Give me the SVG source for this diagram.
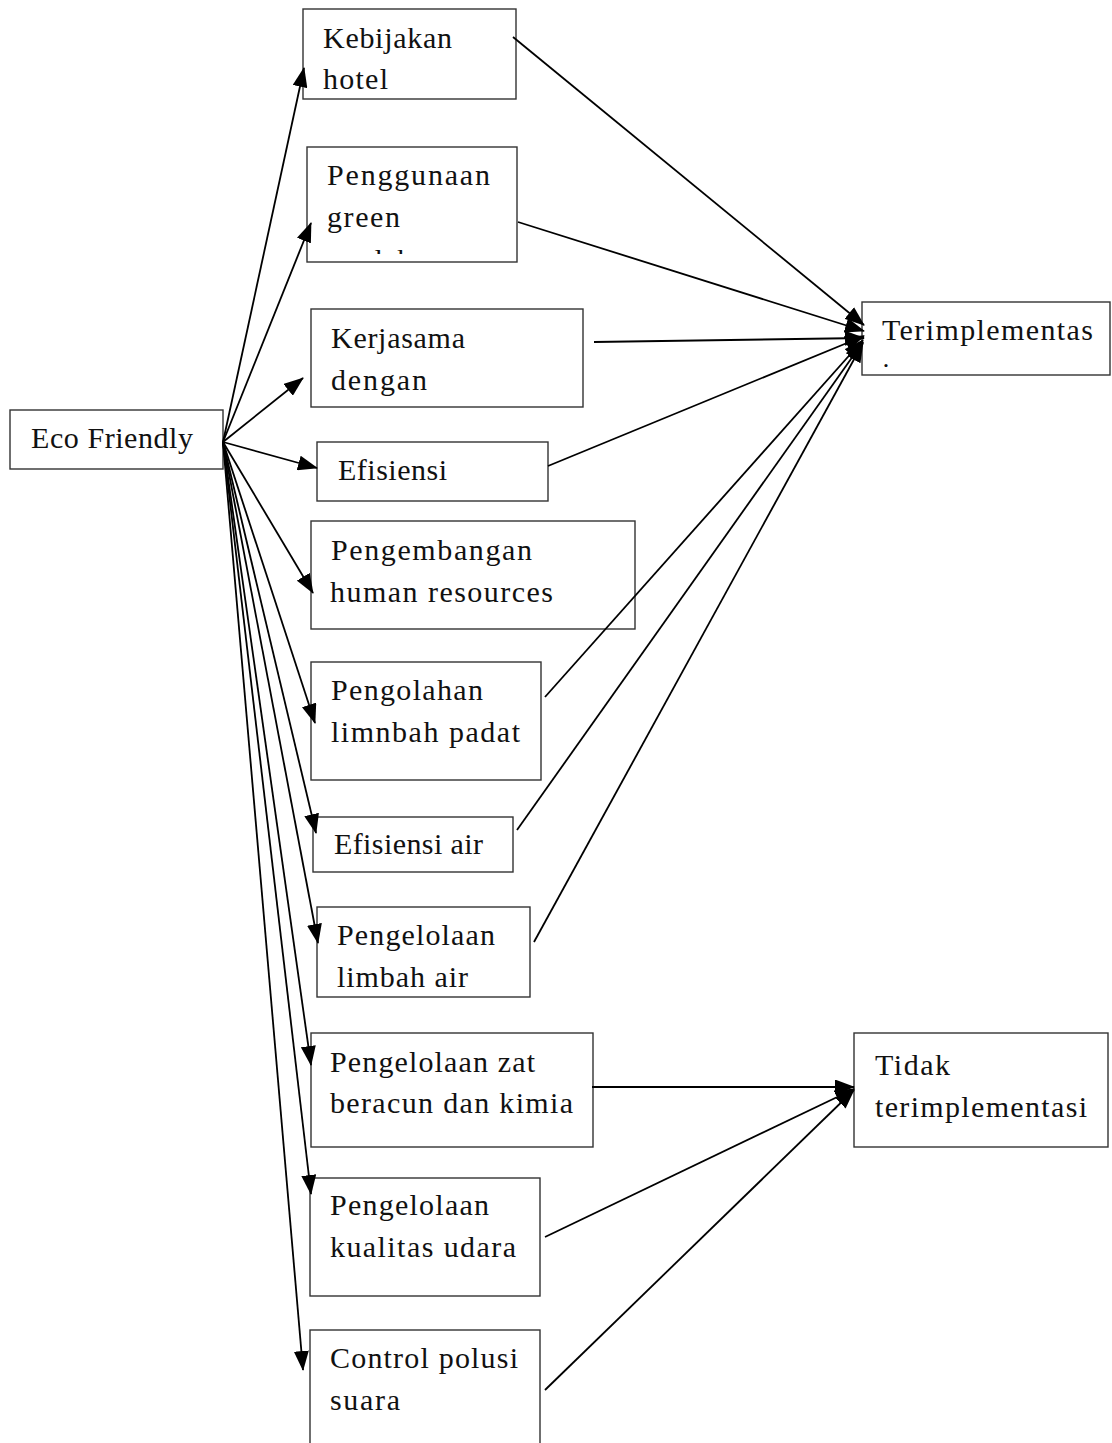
<svg xmlns="http://www.w3.org/2000/svg" width="1112" height="1443" viewBox="0 0 1112 1443">
<style>
.box{fill:#fff;stroke:#333;stroke-width:1.4}
.t{font-family:"Liberation Serif","Times New Roman",serif;font-size:30px;fill:#111}
.c line{stroke:#000;stroke-width:1.8;marker-end:url(#ah)}
</style>
<defs>
<marker id="ah" markerUnits="userSpaceOnUse" markerWidth="20" markerHeight="15" refX="19" refY="7.5" orient="auto" viewBox="0 0 20 15">
<path d="M0,0 L20,7.5 L0,15 z" fill="#000"/>
</marker>
<clipPath id="clipProduk"><rect x="307" y="147" width="210" height="107"/></clipPath>
<clipPath id="clipTerim"><rect x="862" y="302" width="250" height="65"/></clipPath>
</defs>
<rect width="1112" height="1443" fill="#fff"/>

<g id="eco">
<rect class="box" x="10" y="410" width="213" height="59"/>
<text class="t" x="31" y="448" textLength="162" lengthAdjust="spacing">Eco Friendly</text>
</g>
<g id="kebijakan">
<rect class="box" x="303" y="9" width="213" height="90"/>
<text class="t" x="323" y="48" textLength="129" lengthAdjust="spacing">Kebijakan</text>
<text class="t" x="323" y="89" textLength="65" lengthAdjust="spacing">hotel</text>
</g>
<g id="penggunaan">
<rect class="box" x="307" y="147" width="210" height="115"/>
<text class="t" x="327" y="185" textLength="163" lengthAdjust="spacing">Penggunaan</text>
<text class="t" x="327" y="227" textLength="73" lengthAdjust="spacing">green</text>
<text class="t" x="327" y="270" clip-path="url(#clipProduk)">produk</text>
</g>
<g id="kerjasama">
<rect class="box" x="311" y="309" width="272" height="98"/>
<text class="t" x="331" y="348" textLength="134" lengthAdjust="spacing">Kerjasama</text>
<text class="t" x="331" y="390" textLength="96" lengthAdjust="spacing">dengan</text>
</g>
<g id="efisiensi">
<rect class="box" x="317" y="442" width="231" height="59"/>
<text class="t" x="338" y="480" textLength="109" lengthAdjust="spacing">Efisiensi</text>
</g>
<g id="pengembangan">
<rect class="box" x="311" y="521" width="324" height="108"/>
<text class="t" x="331" y="560" textLength="201" lengthAdjust="spacing">Pengembangan</text>
<text class="t" x="330" y="602" textLength="223" lengthAdjust="spacing">human resources</text>
</g>
<g id="pengolahan">
<rect class="box" x="311" y="662" width="230" height="118"/>
<text class="t" x="331" y="700" textLength="152" lengthAdjust="spacing">Pengolahan</text>
<text class="t" x="331" y="742" textLength="189" lengthAdjust="spacing">limnbah padat</text>
</g>
<g id="efisiensi-air">
<rect class="box" x="313" y="817" width="200" height="55"/>
<text class="t" x="334" y="854" textLength="149" lengthAdjust="spacing">Efisiensi air</text>
</g>
<g id="limbah-air">
<rect class="box" x="317" y="907" width="213" height="90"/>
<text class="t" x="337" y="945" textLength="158" lengthAdjust="spacing">Pengelolaan</text>
<text class="t" x="337" y="987" textLength="131" lengthAdjust="spacing">limbah air</text>
</g>
<g id="zat-kimia">
<rect class="box" x="311" y="1033" width="282" height="114"/>
<text class="t" x="330" y="1072" textLength="205" lengthAdjust="spacing">Pengelolaan zat</text>
<text class="t" x="330" y="1113" textLength="243" lengthAdjust="spacing">beracun dan kimia</text>
</g>
<g id="kualitas-udara">
<rect class="box" x="310" y="1178" width="230" height="118"/>
<text class="t" x="330" y="1215" textLength="159" lengthAdjust="spacing">Pengelolaan</text>
<text class="t" x="330" y="1257" textLength="186" lengthAdjust="spacing">kualitas udara</text>
</g>
<g id="polusi-suara">
<rect class="box" x="310" y="1330" width="230" height="130"/>
<text class="t" x="330" y="1368" textLength="188" lengthAdjust="spacing">Control polusi</text>
<text class="t" x="330" y="1410" textLength="70" lengthAdjust="spacing">suara</text>
</g>
<g id="terimplementasi">
<rect class="box" x="862" y="302" width="248" height="73"/>
<text class="t" x="882" y="340" textLength="211" lengthAdjust="spacing">Terimplementas</text>
<text class="t" x="882" y="383" clip-path="url(#clipTerim)">i</text>
</g>
<g id="tidak-terimplementasi">
<rect class="box" x="854" y="1033" width="254" height="114"/>
<text class="t" x="875" y="1075" textLength="75" lengthAdjust="spacing">Tidak</text>
<text class="t" x="875" y="1117" textLength="212" lengthAdjust="spacing">terimplementasi</text>
</g>

<g class="c" id="connectors">
<line x1="223" y1="442" x2="304" y2="68"/>
<line x1="223" y1="442" x2="311" y2="223"/>
<line x1="223" y1="442" x2="303" y2="378"/>
<line x1="223" y1="442" x2="317" y2="468"/>
<line x1="223" y1="442" x2="313" y2="593"/>
<line x1="223" y1="442" x2="315" y2="723"/>
<line x1="223" y1="442" x2="316" y2="833"/>
<line x1="223" y1="442" x2="318" y2="943"/>
<line x1="223" y1="442" x2="311" y2="1065"/>
<line x1="223" y1="442" x2="311" y2="1194"/>
<line x1="223" y1="442" x2="303" y2="1370"/>
<line x1="513" y1="37" x2="864" y2="325"/>
<line x1="518" y1="222" x2="864" y2="331"/>
<line x1="594" y1="342" x2="864" y2="338"/>
<line x1="548" y1="466" x2="864" y2="336"/>
<line x1="545" y1="697" x2="863" y2="340"/>
<line x1="517" y1="830" x2="863" y2="342"/>
<line x1="534" y1="942" x2="863" y2="343"/>
<line x1="592" y1="1087" x2="854" y2="1087"/>
<line x1="545" y1="1237" x2="854" y2="1089"/>
<line x1="545" y1="1390" x2="854" y2="1090"/>
</g>
</svg>
